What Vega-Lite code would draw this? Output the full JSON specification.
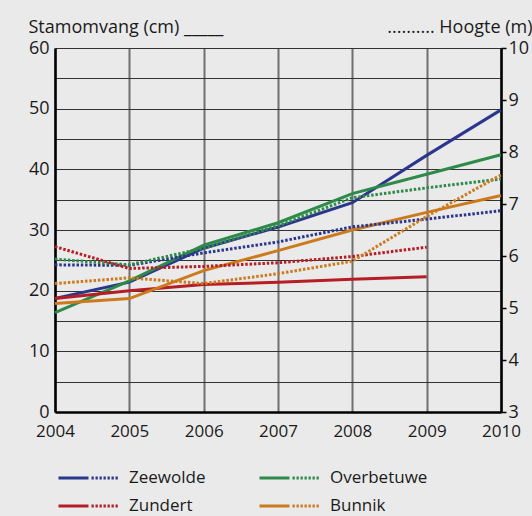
{
  "$schema": "https://vega.github.io/schema/vega-lite/v6.json",
  "width": 446,
  "height": 364,
  "autosize": {"type": "none"},
  "padding": {"left": 55, "top": 48, "right": 31, "bottom": 104},
  "background": "#eaeaea",
  "config": {
    "view": {"stroke": null},
    "font": "Open Sans",
    "axis": {"labelColor": "#1a1a1a", "titleColor": "#1a1a1a", "labelFontSize": 18, "titleFontSize": 18, "titleFontWeight": "normal"}
  },
  "data": {
    "values": [
      {"year": 2004, "site": "Zeewolde", "stam": 18.7, "hoogte": 5.83},
      {"year": 2005, "site": "Zeewolde", "stam": 21.4, "hoogte": 5.82},
      {"year": 2006, "site": "Zeewolde", "stam": 27.0, "hoogte": 6.06},
      {"year": 2007, "site": "Zeewolde", "stam": 30.5, "hoogte": 6.27},
      {"year": 2008, "site": "Zeewolde", "stam": 34.5, "hoogte": 6.56},
      {"year": 2009, "site": "Zeewolde", "stam": 42.3, "hoogte": 6.71},
      {"year": 2010, "site": "Zeewolde", "stam": 49.8, "hoogte": 6.87},
      {"year": 2004, "site": "Overbetuwe", "stam": 16.4, "hoogte": 5.94},
      {"year": 2005, "site": "Overbetuwe", "stam": 21.6, "hoogte": 5.83},
      {"year": 2006, "site": "Overbetuwe", "stam": 27.5, "hoogte": 6.15},
      {"year": 2007, "site": "Overbetuwe", "stam": 31.2, "hoogte": 6.58},
      {"year": 2008, "site": "Overbetuwe", "stam": 36.0, "hoogte": 7.12},
      {"year": 2009, "site": "Overbetuwe", "stam": 39.2, "hoogte": 7.31},
      {"year": 2010, "site": "Overbetuwe", "stam": 42.4, "hoogte": 7.48},
      {"year": 2004, "site": "Zundert", "stam": 18.7, "hoogte": 6.18},
      {"year": 2005, "site": "Zundert", "stam": 20.0, "hoogte": 5.76},
      {"year": 2006, "site": "Zundert", "stam": 21.0, "hoogte": 5.80},
      {"year": 2007, "site": "Zundert", "stam": 21.4, "hoogte": 5.87},
      {"year": 2008, "site": "Zundert", "stam": 21.9, "hoogte": 5.99},
      {"year": 2009, "site": "Zundert", "stam": 22.3, "hoogte": 6.17},
      {"year": 2004, "site": "Bunnik", "stam": 17.9, "hoogte": 5.47},
      {"year": 2005, "site": "Bunnik", "stam": 18.7, "hoogte": 5.58},
      {"year": 2006, "site": "Bunnik", "stam": 23.3, "hoogte": 5.47},
      {"year": 2007, "site": "Bunnik", "stam": 26.6, "hoogte": 5.66},
      {"year": 2008, "site": "Bunnik", "stam": 30.0, "hoogte": 5.90},
      {"year": 2009, "site": "Bunnik", "stam": 32.9, "hoogte": 6.76},
      {"year": 2010, "site": "Bunnik", "stam": 35.7, "hoogte": 7.56}
    ]
  },
  "encoding": {
    "x": {
      "field": "year",
      "type": "quantitative",
      "scale": {"domain": [2004, 2010], "nice": false, "zero": false},
      "axis": {
        "values": [2004, 2005, 2006, 2007, 2008, 2009, 2010],
        "format": "d",
        "title": null,
        "grid": true,
        "gridColor": "#6f6f6f",
        "gridWidth": 2,
        "ticks": false,
        "domainColor": "#000000",
        "domainWidth": 2.5,
        "labelFontSize": 17,
        "labelPadding": 11,
        "labelFlush": false
      }
    },
    "color": {
      "field": "site",
      "type": "nominal",
      "scale": {
        "domain": ["Zeewolde", "Zundert", "Overbetuwe", "Bunnik"],
        "range": ["#2b368d", "#b71d24", "#2e8a48", "#cc7a1c"]
      },
      "legend": {
        "orient": "none",
        "legendX": 2,
        "legendY": 419,
        "columns": 2,
        "title": null,
        "padding": 0,
        "symbolType": "M-1,0H1",
        "symbolSize": 3844,
        "symbolStrokeWidth": 3,
        "symbolDash": [30, 3, 2.3, 1.7, 2.3, 1.7, 2.3, 1.7, 2.3, 1.7, 2.3, 1.7, 2.3, 1.7, 2.3, 100],
        "labelFontSize": 17,
        "labelColor": "#1a1a1a",
        "labelOffset": 7,
        "clipHeight": 22,
        "rowPadding": 6,
        "columnPadding": 52
      }
    }
  },
  "layer": [
    {
      "mark": {"type": "line", "strokeWidth": 3},
      "encoding": {
        "y": {
          "field": "stam",
          "type": "quantitative",
          "scale": {"domain": [0, 60], "nice": false},
          "axis": {
            "values": [0, 5, 10, 15, 20, 25, 30, 35, 40, 45, 50, 55, 60],
            "labelExpr": "datum.value % 10 === 0 ? datum.label : ''",
            "ticks": false,
            "grid": true,
            "gridColor": "#333333",
            "gridWidth": 1.2,
            "domainColor": "#000000",
            "domainWidth": 2.5,
            "labelPadding": 6,
            "title": "Stamomvang (cm) _____",
            "titleAngle": 0,
            "titleAlign": "left",
            "titleBaseline": "alphabetic",
            "titleX": -27,
            "titleY": -16
          }
        }
      }
    },
    {
      "mark": {"type": "line", "strokeWidth": 3, "strokeDash": [2.5, 1.8]},
      "encoding": {
        "y": {
          "field": "hoogte",
          "type": "quantitative",
          "scale": {"domain": [3, 10], "nice": false, "zero": false},
          "axis": {
            "orient": "right",
            "values": [3, 4, 5, 6, 7, 8, 9, 10],
            "grid": false,
            "ticks": true,
            "tickSize": 5,
            "tickWidth": 1.5,
            "tickColor": "#000000",
            "domainColor": "#000000",
            "domainWidth": 2.5,
            "labelPadding": 2,
            "title": ".......... Hoogte (m)",
            "titleAngle": 0,
            "titleAlign": "right",
            "titleBaseline": "alphabetic",
            "titleX": 31,
            "titleY": -16
          }
        }
      }
    }
  ],
  "resolve": {"scale": {"y": "independent"}}
}
